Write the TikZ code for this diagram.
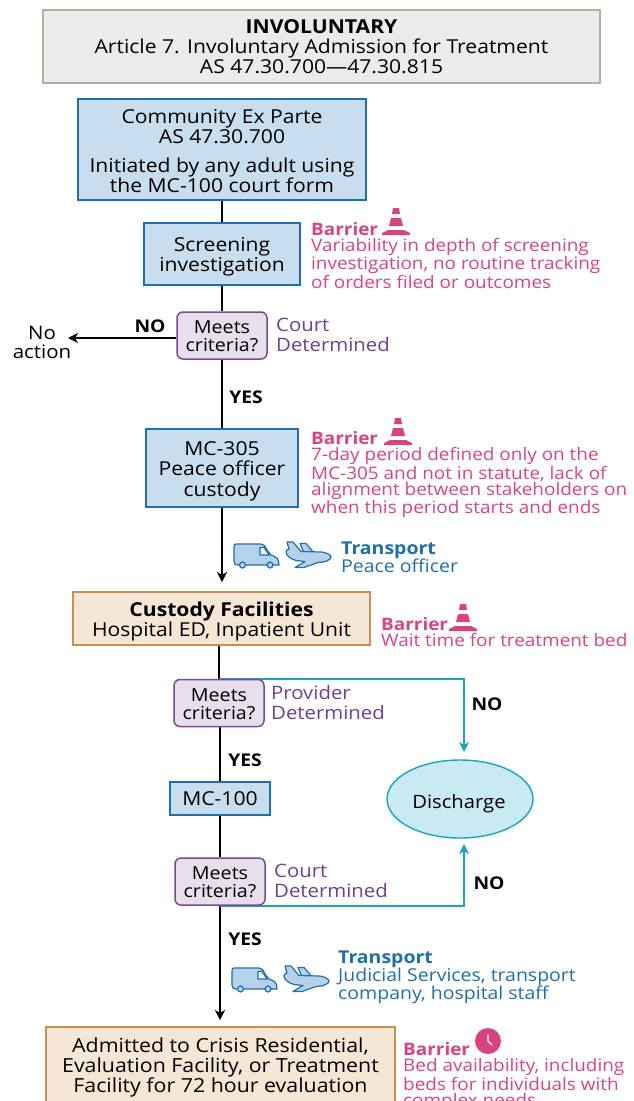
\documentclass[tikz,border=0pt]{standalone}
\usepackage{fontspec}
\setmainfont[FakeStretch=1.10]{Open Sans}
\usetikzlibrary{arrows.meta,backgrounds,shapes.geometric}
\definecolor{topfill}{HTML}{EDEBE9}
\definecolor{topline}{HTML}{B5ADA3}
\definecolor{bluefill}{HTML}{C8DDED}
\definecolor{blueline}{HTML}{1F6FAE}
\definecolor{purfill}{HTML}{E7DFEC}
\definecolor{purline}{HTML}{7B4A94}
\definecolor{tanfill}{HTML}{F6E6D6}
\definecolor{tanline}{HTML}{C98F50}
\definecolor{pinktxt}{HTML}{D8447F}
\definecolor{purtxt}{HTML}{6F3F92}
\definecolor{transblue}{HTML}{1F6FA8}
\definecolor{tealline}{HTML}{1AA5BE}
\definecolor{tealfill}{HTML}{C9E9F3}
\definecolor{vanfill}{HTML}{B5D2EA}
\newcommand{\fsz}[1]{\fontsize{#1}{20}\selectfont}
\tikzset{
  x=1pt,y=-1pt,
  basebox/.style={rectangle,draw,line width=1.5pt,inner sep=0pt,align=center,text=black,font=\fsz{19.2}},
  topbox/.style={basebox,fill=topfill,draw=topline},
  bluebox/.style={basebox,fill=bluefill,draw=blueline},
  purbox/.style={basebox,rounded corners=6pt,fill=purfill,draw=purline,font=\fontsize{17.9}{18}\selectfont},
  tanbox/.style={basebox,fill=tanfill,draw=tanline},
  boxtext/.style={inner sep=0pt,align=center,text=black},
  note/.style={inner sep=0pt,anchor=north west,align=left},
  barriertxt/.style={note,text=pinktxt,font=\fontsize{17.2}{16.5}\selectfont},
  purtext/.style={note,text=purtxt,font=\fsz{18.5}},
  transtxt/.style={note,text=transblue,font=\fontsize{17.7}{18}\selectfont},
  lab/.style={inner sep=0pt,font=\bfseries\fontsize{17.5}{18}\selectfont},
  flow/.style={line width=1.7pt,black},
  flowarrow/.style={flow,-{Stealth[length=10pt,width=10pt,inset=3pt]}},
  tealarrow/.style={line width=1.5pt,tealline,-{Stealth[length=10pt,width=10pt,inset=3pt]}},
  cone/.pic={
    \fill[pinktxt] (-14,27) -- (14,27) -- (14,25) -- (8,22) -- (-8,22) -- (-14,25) -- cycle;
    \fill[pinktxt] (-3,0) -- (3,0) -- (4,6) -- (-4,6) -- cycle;
    \fill[pinktxt] (-5,10) -- (5,10) -- (7,18) -- (-7,18) -- cycle;
  },
  clockicon/.pic={
    \fill[pinktxt] (0,0) circle[radius=13];
    \draw[white,line width=1.3pt,line cap=round] (0,-6) -- (0,0) -- (4,4);
  },
  vanicon/.pic={
    \draw[blueline,fill=vanfill,line width=1.2pt,line join=round]
      (2,0) -- (27,0) .. controls (30,0) and (31,2) .. (33,6) -- (37,11)
      .. controls (43,13) and (45,15) .. (45,21) -- (40,21) -- (5,21)
      .. controls (1,21) and (0,20) .. (0,17) -- (0,3) .. controls (0,1) and (1,0) .. (2,0) -- cycle;
    \draw[blueline,fill=white,line width=1.2pt] (26,3.5) -- (30,3.5) -- (35,11) -- (26,11) -- cycle;
    \draw[blueline,fill=vanfill,line width=1.2pt] (8.5,21) circle[radius=3];
    \draw[blueline,fill=vanfill,line width=1.2pt] (36,21) circle[radius=3];
  },
  planeicon/.pic={
    \draw[blueline,fill=vanfill,line width=1.2pt,line join=round]
      (14,1.5) -- (20,1.5) -- (28,11) -- (18,11) -- cycle;
    \draw[blueline,fill=vanfill,line width=1.2pt,line join=round]
      (1,0) -- (7,0) -- (15,9.5) -- (36,10)
      .. controls (41,11) and (45,13) .. (45,15)
      .. controls (45,18) and (39,20.5) .. (32,20.5) -- (18,25.5) -- (9,25.5) -- (19,19.5)
      -- (10,18.5) .. controls (4,17) and (0,13) .. (0,10) .. controls (0,8) and (1,8) .. (3,7) -- cycle;
  },
}
\begin{document}
\begin{tikzpicture}
\clip (0,0) rectangle (633,1101);

% boxes
\node[topbox,minimum width=557pt,minimum height=73pt] (top) at (321.5,46.5)
  {\bfseries INVOLUNTARY\\Article 7. Involuntary Admission for Treatment\\AS 47.30.700—47.30.815};
\node[bluebox,minimum width=288pt,minimum height=101pt] (ex) at (222,149.5) {};
\node[boxtext,font=\fsz{19.2}] (ext) at (222,151.5)
  {Community Ex Parte\\AS 47.30.700\\[9pt]Initiated by any adult using\\the MC-100 court form};
\node[bluebox,minimum width=156pt,minimum height=62pt] (screen) at (222,254) {};
\node[boxtext,font=\fsz{19.2}] (screent) at (222,256.5) {Screening\\investigation};
\node[purbox,minimum width=90pt,minimum height=47pt] (m1) at (222,335.5) {};
\node[boxtext,font=\fontsize{17.9}{18}\selectfont] (m1t) at (222,336.5) {Meets\\criteria?};
\node[bluebox,minimum width=152pt,minimum height=78pt] (mc305) at (222,468) {};
\node[boxtext,font=\fontsize{19.2}{20.5}\selectfont] (mc305t) at (222,471) {MC-305\\Peace officer\\custody};
\node[tanbox,minimum width=297pt,minimum height=53pt] (cust) at (221.5,618.5) {};
\node[boxtext,font=\fsz{19.2}] (custt) at (221.5,621.5) {\bfseries Custody Facilities\\Hospital ED, Inpatient Unit};
\node[purbox,minimum width=90pt,minimum height=47pt] (m2) at (219,703) {};
\node[boxtext,font=\fontsize{17.9}{18}\selectfont] (m2t) at (219,704) {Meets\\criteria?};
\node[bluebox,minimum width=100pt,minimum height=33pt] (mc100) at (220,798.5) {MC-100};
\node[ellipse,draw=tealline,fill=tealfill,line width=1.4pt,minimum width=146pt,minimum height=78pt,inner sep=0pt] (dis) at (460,799) {};
\node[inner sep=0pt,font=\fsz{18.4}] (distxt) at (459,804) {Discharge};
\node[purbox,minimum width=90pt,minimum height=47pt] (m3) at (220,881.5) {};
\node[boxtext,font=\fontsize{17.9}{18}\selectfont] (m3t) at (220,882.5) {Meets\\criteria?};
\node[tanbox,minimum width=349pt,minimum height=92pt,anchor=north] (adm) at (220.5,1026) {};
\node[boxtext,font=\fsz{19.4}] (admt) at (220.5,1067) {Admitted to Crisis Residential,\\Evaluation Facility, or Treatment\\Facility for 72 hour evaluation};

% free ends
\node[inner sep=0pt,align=center,font=\fontsize{18.6}{19}\selectfont] (noact) at (42,342.5) {No\\action};
\coordinate (distop) at (464,752);
\coordinate (disbot) at (464,844);
\coordinate (c1end) at (222,582);
\coordinate (c2end) at (220,1020);
\coordinate (noend) at (68,338);

% connectors
\begin{scope}[on background layer]
\draw[flow] (ex) -- (screen);
\draw[flow] (screen) -- (m1);
\draw[flow] (m1) -- (mc305);
\draw[flowarrow] (mc305) -- (c1end);
\draw[flowarrow] (m1.west |- noend) -- (noend);
\draw[flow] (cust.south -| m2) -- (m2);
\draw[flow] (m2.south -| mc100) -- (mc100);
\draw[flow] (mc100) -- (m3);
\draw[flowarrow] (m3) -- (c2end);
\draw[tealarrow] (m2.north) -| (distop);
\draw[tealarrow] (m3.south) -| (disbot);
\end{scope}

% labels
\node[lab] (no1) at (150,326) {NO};
\node[lab] (yes1) at (246,397) {YES};
\node[lab] (no2) at (487,704) {NO};
\node[lab] (yes2) at (245,760) {YES};
\node[lab] (no3) at (489,883) {NO};
\node[lab] (yes3) at (245,939) {YES};

% determined notes
\node[purtext] (d1) at (276,318) {Court\\Determined};
\node[purtext] (d2) at (271,685) {Provider\\Determined};
\node[purtext] (d3) at (274,864) {Court\\Determined};

% barriers
\node[barriertxt] (b1) at (311,222) {\textbf{Barrier}\\Variability in depth of screening\\investigation, no routine tracking\\of orders filed or outcomes};
\pic at (396,208) {cone};
\node[barriertxt] (b2) at (311,431) {\textbf{Barrier}\\7-day period defined only on the\\MC-305 and not in statute, lack of\\alignment between stakeholders on\\when this period starts and ends};
\pic at (398,418) {cone};
\node[barriertxt] (b3) at (381,617) {\textbf{Barrier}\\Wait time for treatment bed};
\pic at (463,604) {cone};
\node[barriertxt] (b4) at (403,1042) {\textbf{Barrier}\\Bed availability, including\\beds for individuals with\\complex needs};
\pic at (488,1041) {clockicon};

% transport
\pic at (234,544) {vanicon};
\pic at (286,542) {planeicon};
\node[transtxt] (t1) at (341,542) {\textbf{Transport}\\Peace officer};
\pic at (232,968) {vanicon};
\pic at (284,966) {planeicon};
\node[transtxt] (t2) at (338,951) {\textbf{Transport}\\Judicial Services, transport\\company, hospital staff};
\end{tikzpicture}
\end{document}
